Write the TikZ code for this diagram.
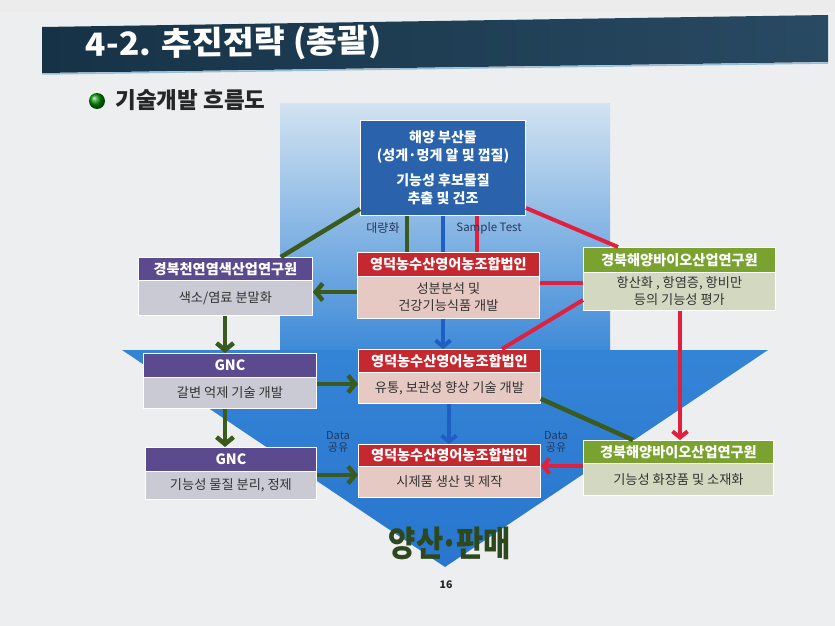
\documentclass[tikz,border=0pt]{standalone}
\usepackage{fontspec}
\setmainfont{Noto Sans CJK KR}
\usetikzlibrary{arrows.meta,calc}
\definecolor{pagebg}{HTML}{ECEEF0}
\definecolor{gcol}{HTML}{3A5A1E}
\definecolor{bcol}{HTML}{1F5FC4}
\definecolor{rcol}{HTML}{E0203C}
\definecolor{purp}{HTML}{5B4A8E}
\definecolor{redh}{HTML}{C6282F}
\definecolor{grnh}{HTML}{79A22F}
\definecolor{grayb}{HTML}{C9CAD4}
\definecolor{pinkb}{HTML}{E6C9C3}
\definecolor{oliveb}{HTML}{D3D8C0}
\definecolor{topb}{HTML}{2A63AB}
\definecolor{hdl}{RGB}{22,50,70}
\definecolor{hdr2}{RGB}{40,74,98}
\definecolor{hline}{RGB}{150,190,215}
\definecolor{shtop}{RGB}{210,227,241}
\definecolor{shbot}{RGB}{62,138,216}
\definecolor{hdtop}{RGB}{52,132,214}
\definecolor{hdbot}{RGB}{40,118,206}
\definecolor{ysc}{RGB}{45,72,28}
\definecolor{lblc}{RGB}{40,55,90}
\tikzset{
  hdr/.style={rectangle, draw=white, line width=0.8pt, anchor=north west, inner sep=0pt, align=center, text=white, font=\bfseries\fontsize{14.2}{16}\selectfont},
  bdy/.style={rectangle, draw=white, line width=0.8pt, anchor=north west, inner sep=0pt, align=center, text=black!80, font=\fontsize{13.2}{17}\selectfont},
  gline/.style={draw=gcol, line width=4.5pt},
  garrow/.style={gline, -{Straight Barb[length=7pt,width=17pt]}},
  bline/.style={draw=bcol, line width=4pt},
  barrow/.style={bline, -{Straight Barb[length=6pt,width=15pt]}},
  rline/.style={draw=rcol, line width=4pt},
  rarrow/.style={rline, -{Straight Barb[length=6pt,width=15pt]}},
  lbl/.style={inner sep=0pt, align=center, text=lblc, font=\fontsize{11}{12.5}\selectfont},
}
\begin{document}
\begin{tikzpicture}[x=1pt,y=-1pt]
\useasboundingbox (0,0) rectangle (835,626);
% page background
\fill[pagebg] (0,0) rectangle (835,626);
\fill[white!85!gray] (0,0) rectangle (835,12);
% header band
\shade[left color=hdl, right color=hdr2]
  (42,27) -- (828,15) -- (828,62) -- (42,73) -- cycle;
\draw[line width=1.5pt, hline] (42,74) -- (828,63);
\node[anchor=west, text=white, rotate=0.8, xscale=1.05, font=\bfseries\fontsize{32}{35}\selectfont] (title) at (82,46) {4-2. 추진전략 (총괄)};
% bullet
\shade[ball color=green!55!black] (97,101) circle (8);
\node[anchor=west, text=black!85, font=\bfseries\fontsize{22.5}{25}\selectfont] (subt) at (112,100) {기술개발 흐름도};
% big background arrow
\shade[top color=shtop, bottom color=shbot] (280,103) rectangle (610,351);
\shade[top color=hdtop, bottom color=hdbot] (122,350) -- (768,350) -- (445,567) -- cycle;
% top box
\node[rectangle, draw=white, line width=1pt, fill=topb, anchor=north west, minimum width=165pt, minimum height=95pt, inner sep=0pt, align=center, text=white, font=\bfseries\fontsize{14}{17.5}\selectfont] (top) at (360,120)
  {해양 부산물\\(성게·멍게 알 및 껍질)\\[8pt]기능성 후보물질\\추출 및 건조};
% left column
\node[hdr, fill=purp, minimum width=174pt, minimum height=23pt] (hL1) at (138,257) {경북천연염색산업연구원};
\node[bdy, fill=grayb, minimum width=174pt, minimum height=35pt] (bL1) at (138,280) {색소/염료 분말화};
\node[hdr, fill=purp, minimum width=173pt, minimum height=24pt] (hG1) at (143,353) {GNC};
\node[bdy, fill=grayb, minimum width=173pt, minimum height=31pt] (bG1) at (143,377) {갈변 억제 기술 개발};
\node[hdr, fill=purp, minimum width=171pt, minimum height=24pt] (hG2) at (145,447) {GNC};
\node[bdy, fill=grayb, minimum width=171pt, minimum height=28pt] (bG2) at (145,471) {기능성 물질 분리, 정제};
% center column
\node[hdr, fill=redh, minimum width=182pt, minimum height=24pt] (hC1) at (357,252) {영덕농수산영어농조합법인};
\node[bdy, fill=pinkb, minimum width=182pt, minimum height=42pt] (bC1) at (357,276) {성분분석 및\\건강기능식품 개발};
\node[hdr, fill=redh, minimum width=182pt, minimum height=23pt] (hC2) at (358,349) {영덕농수산영어농조합법인};
\node[bdy, fill=pinkb, minimum width=182pt, minimum height=31pt] (bC2) at (358,372) {유통, 보관성 향상 기술 개발};
\node[hdr, fill=redh, minimum width=182pt, minimum height=22pt] (hC3) at (358,444) {영덕농수산영어농조합법인};
\node[bdy, fill=pinkb, minimum width=182pt, minimum height=31pt] (bC3) at (358,466) {시제품 생산 및 제작};
% right column
\node[hdr, fill=grnh, minimum width=192pt, minimum height=25pt] (hR1) at (583,247) {경북해양바이오산업연구원};
\node[bdy, fill=oliveb, minimum width=192pt, minimum height=38pt] (bR1) at (583,272) {항산화 , 항염증, 항비만\\등의 기능성 평가};
\node[hdr, fill=grnh, minimum width=190pt, minimum height=23pt] (hR2) at (583,440) {경북해양바이오산업연구원};
\node[bdy, fill=oliveb, minimum width=190pt, minimum height=32pt] (bR2) at (583,463) {기능성 화장품 및 소재화};
% helper coordinates
\coordinate (xg) at (407,0);
\coordinate (xb) at (443,0);
\coordinate (xb2) at (449,0);
\coordinate (xr) at (477,0);
\coordinate (xL) at (225,0);
\coordinate (xR) at (680,0);
\coordinate (xC2r) at (502,0);
\coordinate (y1) at (0,292);
\coordinate (yR1) at (0,283);
\coordinate (yR1b) at (0,300);
\coordinate (y2) at (0,384);
\coordinate (y3) at (0,475);
\coordinate (y3r) at (0,466);
% connectors
\draw[gline] ([yshift=7pt]top.south west) -- ([xshift=-32pt]hL1.north east);
\draw[gline] (top.south -| xg) -- (hC1.north -| xg);
\draw[bline] (top.south -| xb) -- (hC1.north -| xb);
\draw[rline] (top.south -| xr) -- (hC1.north -| xr);
\draw[rline] ([yshift=8pt]top.south east) -- ([xshift=35pt]hR1.north west);
\draw[garrow] (bC1.west |- y1) -- (bL1.east |- y1);
\draw[garrow] (bL1.south -| xL) -- (hG1.north -| xL);
\draw[garrow] (bG1.east |- y2) -- (hC2.west |- y2);
\draw[garrow] (bG1.south -| xL) -- (hG2.north -| xL);
\draw[garrow] (bG2.east |- y3) -- (bC3.west |- y3);
\draw[gline] ([yshift=5pt]bC2.south east) -- ([xshift=50pt]hR2.north west);
\draw[barrow] (bC1.south -| xb) -- (hC2.north -| xb);
\draw[barrow] (bC2.south -| xb2) -- (hC3.north -| xb2);
\draw[rline] (bC1.east |- yR1) -- (bR1.west |- yR1);
\draw[rline] (bR1.west |- yR1b) -- (hC2.north -| xC2r);
\draw[rarrow] (bR1.south -| xR) -- (hR2.north -| xR);
\draw[rarrow] (hR2.west |- y3r) -- (hC3.east |- y3r);
% labels
\node[lbl, font=\fontsize{12}{13}\selectfont] (l1) at (383,228) {대량화};
\node[lbl, font=\fontsize{11.5}{13}\selectfont] (l2) at (489,228) {Sample Test};
\node[lbl] (l3) at (338,442) {Data\\공유};
\node[lbl] (l4) at (556,442) {Data\\공유};
% bottom text
\node[text=ysc, xscale=0.85, font=\bfseries\fontsize{35}{38}\selectfont] (ys) at (450,543) {양산\kern-3pt·\kern-3pt판매};
\node[text=black!85, font=\bfseries\fontsize{10.5}{12}\selectfont] (pg) at (446,585) {16};
\end{tikzpicture}
\end{document}
